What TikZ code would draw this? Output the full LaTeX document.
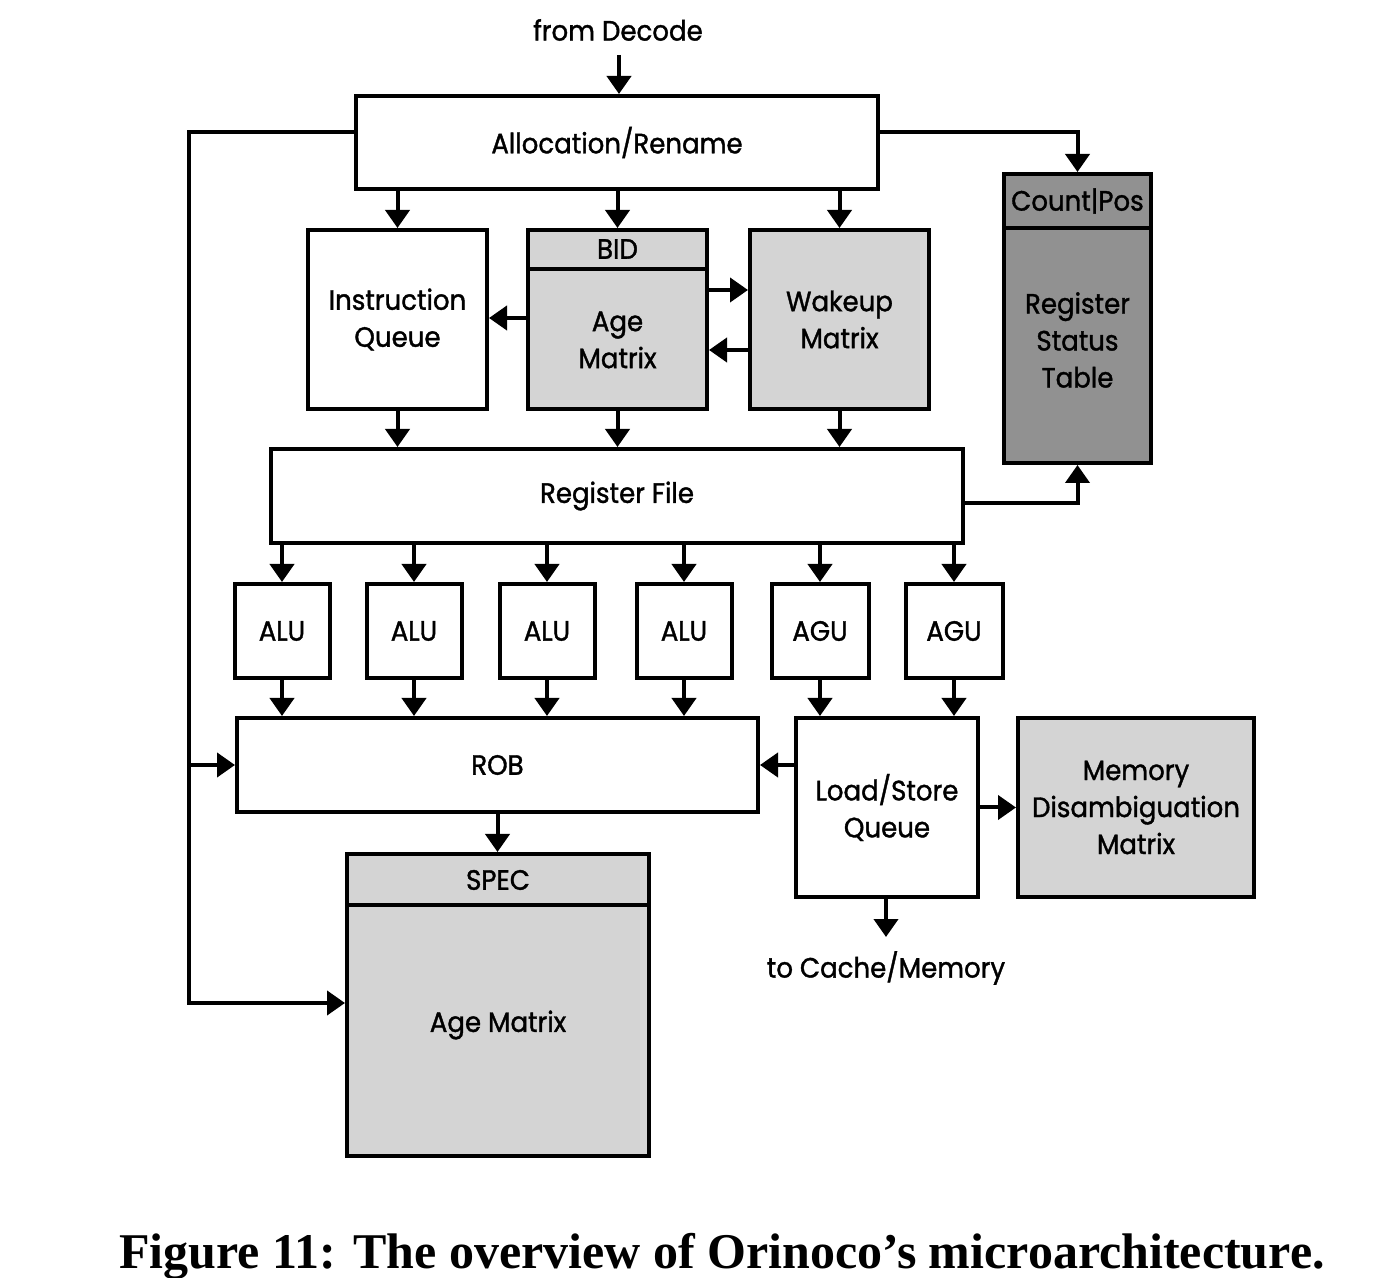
\documentclass[tikz,border=0pt]{standalone}
\usepackage{fontspec}
\setmainfont{Poppins}[FakeStretch=0.93,FakeBold=1.3]
\newfontfamily\capfont{Liberation Serif}
\usetikzlibrary{arrows.meta}
\newcommand\lblfont{\fontsize{14}{18.5}\selectfont}
\definecolor{lightbox}{gray}{0.83}
\definecolor{darkbox}{gray}{0.57}
\begin{document}
\begin{tikzpicture}[x=0.5pt,y=-0.5pt,
  box/.style={draw, line width=2pt, inner sep=0pt, align=center, font=\lblfont},
  txt/.style={inner sep=0pt, align=center, font=\lblfont},
  arr/.style={line width=2pt, -{Triangle[width=12pt,length=9pt]}},
  sep/.style={line width=2pt}]
\useasboundingbox (0,0) rectangle (1394,1278);
% top input
\node[txt] (decode) at (618,30) {from Decode};
\node[box, minimum width=261pt, minimum height=46.5pt] (alloc) at (617,142.5) {Allocation/Rename};
\draw[arr] (619,55) -- (alloc.north -| 619,0);
% middle row
\node[box, minimum width=89.5pt, minimum height=89.5pt] (iq) at (397.5,319.5) {Instruction\\Queue};
\node[box, fill=lightbox, minimum width=89.5pt, minimum height=89.5pt] (agem) at (617.5,319.5) {};
\draw[sep] (agem.west |- 0,269) -- (agem.east |- 0,269);
\node[txt] (bid) at (617.5,249) {BID};
\node[txt] (agemtxt) at (617.5,340) {Age\\Matrix};
\node[box, fill=lightbox, minimum width=89.5pt, minimum height=89.5pt] (wake) at (839.5,319.5) {Wakeup\\Matrix};
\node[box, fill=darkbox, minimum width=73.5pt, minimum height=144.5pt] (rst) at (1077.5,318.5) {};
\draw[sep] (rst.west |- 0,228) -- (rst.east |- 0,228);
\node[txt] (cpos) at (1077.5,201) {Count|Pos};
\node[txt] (rsttxt) at (1077.5,340) {Register\\Status\\Table};
% register file
\node[box, minimum width=346pt, minimum height=47pt] (rf) at (617,496) {Register File};
% units
\foreach \n/\x/\t/\w in {a1/282/ALU/47.5, a2/414/ALU/47.5, a3/547/ALU/47.5, a4/684/ALU/47.5, g1/820/AGU/48.5, g2/954/AGU/48.5}
  \node[box, minimum width=\w pt, minimum height=47pt] (\n) at (\x,631) {\t};
% ROB, LSQ, MDM
\node[box, minimum width=260.5pt, minimum height=47pt] (rob) at (497.5,765) {ROB};
\node[box, minimum width=91pt, minimum height=89.5pt] (lsq) at (887,807.5) {Load/Store\\Queue};
\node[box, fill=lightbox, minimum width=118pt, minimum height=89.5pt] (mdm) at (1136,807.5) {Memory\\Disambiguation\\Matrix};
% SPEC age matrix
\node[box, fill=lightbox, minimum width=151pt, minimum height=151pt] (spec) at (498,1005) {};
\draw[sep] (spec.west |- 0,905) -- (spec.east |- 0,905);
\node[txt] (spectxt) at (498,880) {SPEC};
\node[txt] (specage) at (498,1025) {Age Matrix};
% output
\coordinate (cacheend) at (886,937);
\node[txt] (cache) at (886,968) {to Cache/Memory};
% caption
\node[inner sep=0pt] (caption) at (722,1256) {\capfont\bfseries\fontsize{25}{29}\selectfont Figure 11: The overview of Orinoco’s microarchitecture.};
% arrows alloc -> row
\foreach \b in {iq,agem,wake} \draw[arr] (alloc.south -| \b) -- (\b.north);
\draw[arr] (agem.west |- 0,318) -- (iq.east |- 0,318);
\draw[arr] (agem.east |- 0,290) -- (wake.west |- 0,290);
\draw[arr] (wake.west |- 0,350) -- (agem.east |- 0,350);
\foreach \b in {iq,agem,wake} \draw[arr] (\b.south) -- (rf.north -| \b);
% feedback left
\coordinate (fbtop) at (189,132);
\coordinate (fbrob) at (189,765);
\coordinate (fbspec) at (189,1003);
\draw[arr] (alloc.west |- fbtop) -- (fbtop) -- (fbspec) -- (spec.west |- fbspec);
\draw[arr] (fbrob) -- (rob.west);
% right
\draw[arr] (alloc.east |- 0,132) -| (rst.north);
\draw[arr] (rf.east |- 0,503) -| (rst.south);
% RF -> units -> ROB/LSQ
\foreach \n in {a1,a2,a3,a4,g1,g2} \draw[arr] (rf.south -| \n) -- (\n.north);
\foreach \n in {a1,a2,a3,a4} \draw[arr] (\n.south) -- (rob.north -| \n);
\foreach \n in {g1,g2} \draw[arr] (\n.south) -- (lsq.north -| \n);
\draw[arr] (lsq.west |- rob) -- (rob.east);
\draw[arr] (lsq.east) -- (mdm.west);
\draw[arr] (lsq.south -| cacheend) -- (cacheend);
\draw[arr] (rob.south) -- (spec.north -| rob);
\end{tikzpicture}
\end{document}
